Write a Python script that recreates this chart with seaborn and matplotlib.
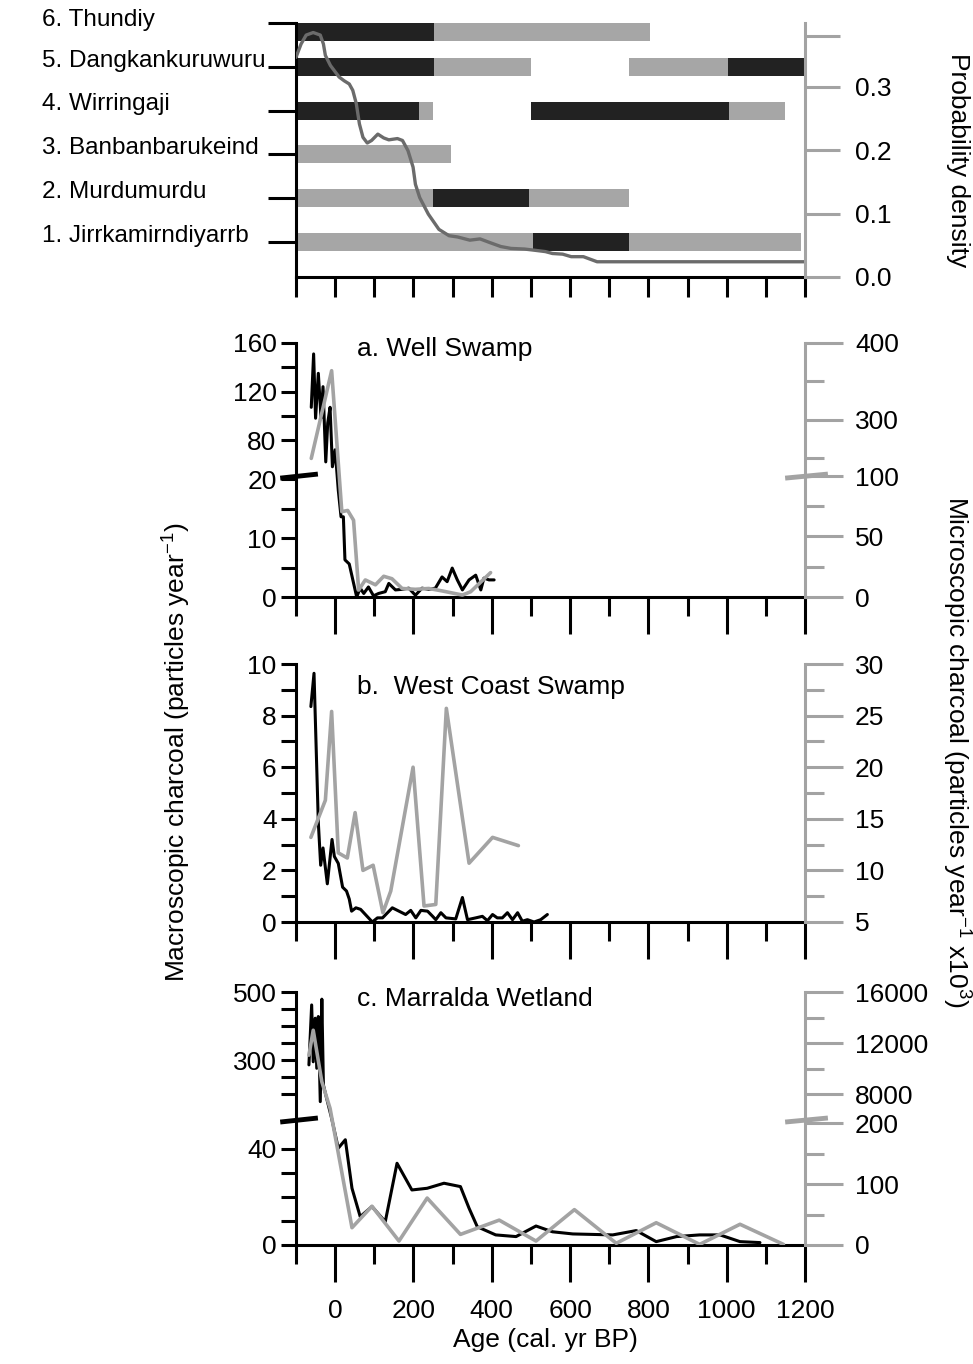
import matplotlib
matplotlib.use('Agg')
import matplotlib.pyplot as plt
import numpy as np
import pandas as pd
import seaborn as sns

# ---------------- data ----------------
sites = ['1. Jirrkamirndiyarrb', '2. Murdumurdu', '3. Banbanbarukeind',
         '4. Wirringaji', '5. Dangkankuruwuru', '6. Thundiy']

# occupation segments (row, start, end, shade)
seg_row = [1, 1, 1, 2, 2, 2, 3, 4, 4, 4, 4, 5, 5, 5, 5, 6, 6]
seg_start = [-100, 505, 750, -100, 250, 495, -100, -100, 215, 500, 1005,
             -100, 252, 750, 1003, -100, 252]
seg_end = [505, 750, 1190, 250, 495, 750, 295, 215, 250, 1005, 1150,
           252, 500, 1003, 1200, 252, 805]
seg_shade = ['light', 'dark', 'light', 'light', 'dark', 'light', 'light',
             'dark', 'light', 'dark', 'light', 'dark', 'light', 'light',
             'dark', 'dark', 'light']

# summed probability density
pd_age = [-100, -87, -74, -56, -38, -30, -25, -12, 10, 23, 36, 45, 54, 62, 71,
          82, 93, 109, 124, 137, 159, 172, 186, 199, 205, 216, 238, 265, 291,
          313, 344, 370, 396, 423, 449, 484, 511, 537, 555, 581, 603, 634,
          669, 1200]
pd_val = [0.346, 0.367, 0.381, 0.385, 0.381, 0.367, 0.349, 0.333, 0.315, 0.309,
          0.304, 0.294, 0.273, 0.241, 0.220, 0.211, 0.215, 0.225, 0.219, 0.216,
          0.218, 0.215, 0.199, 0.173, 0.146, 0.125, 0.099, 0.075, 0.065, 0.063,
          0.058, 0.060, 0.054, 0.048, 0.045, 0.044, 0.042, 0.040, 0.037, 0.036,
          0.032, 0.032, 0.024, 0.024]

# a. Well Swamp
ws_macro_age = [-61, -55, -50, -43, -36, -31, -24, -19, -13, -7, 0, 8, 15, 21,
                25, 36, 55, 64, 73, 85, 98, 111, 128, 137, 154, 171, 188, 205,
                222, 239, 256, 273, 286, 299, 312, 325, 342, 359, 372, 380,
                393, 406]
ws_macro = [107, 151, 98, 135, 98, 124, 62, 94, 107, 58, 72, 18.1, 13.6, 13.6,
            6.3, 5.6, 0, 1.5, 0.6, 1.7, 0.2, 0.6, 0.9, 2.3, 1.2, 1.3, 1.5, 0.3,
            1.5, 1.3, 1.5, 3.4, 2.6, 4.9, 2.9, 1.2, 2.9, 3.7, 1.2, 3.2, 2.9,
            2.9]
ws_micro_age = [-61, -9, 17, 32, 47, 60, 77, 103, 124, 145, 171, 205, 239, 273,
                325, 346, 397]
ws_micro = [250, 364, 70, 71, 63, 5.7, 14, 10, 17, 15, 7, 6.3, 7, 5, 1.6,
            4.3, 20]

# b. West Coast Swamp
wc_macro_age = [-62, -54, -43, -37, -31, -20, -8, -2, 8, 19, 29, 36, 42, 53,
                65, 95, 108, 121, 146, 163, 180, 193, 206, 219, 236, 249, 257,
                270, 283, 308, 325, 338, 359, 376, 389, 402, 414, 427, 440,
                453, 466, 478, 491, 508, 525, 542]
wc_macro = [8.35, 9.64, 3.86, 2.2, 2.87, 1.48, 3.2, 2.54, 2.27, 1.35, 1.2,
            0.89, 0.42, 0.55, 0.49, 0.0, 0.16, 0.16, 0.55, 0.42, 0.29, 0.45,
            0.16, 0.45, 0.42, 0.22, 0.09, 0.36, 0.16, 0.12, 0.95, 0.09, 0.16,
            0.22, 0.05, 0.29, 0.16, 0.16, 0.36, 0.09, 0.36, 0.03, 0.09, 0.0,
            0.09, 0.29]
wc_micro_age = [-62, -25, -9, 8, 31, 51, 71, 97, 122, 142, 199, 227, 257, 284,
                342, 402, 468]
wc_micro = [13.2, 16.8, 25.4, 11.7, 11.2, 15.6, 10.0, 10.5, 5.9, 8.0, 20.0,
            6.55, 6.7, 25.7, 10.7, 13.2, 12.4]

# c. Marralda Wetland
mw_macro_age = [-67, -60, -56, -51, -47, -43, -38, -34, -30, -24, -9, 8, 26,
                43, 64, 94, 128, 158, 196, 235, 278, 320, 342, 363, 410, 462,
                513, 555, 607, 709, 769, 820, 872, 931, 983, 1034, 1085]
mw_macro = [286, 462, 295, 423, 276, 428, 178, 479, 227, 198, 129, 40.3, 43.8,
            23.6, 11.8, 16, 9.7, 34, 22.9, 23.6, 25.7, 24.3, 15.3, 7.6, 4.2,
            3.5, 7.9, 5.5, 4.6, 4.2, 6, 1.4, 3.5, 4.2, 4.2, 1.4, 1.0]
mw_micro_age = [-67, -56, -34, -13, 43, 94, 163, 235, 320, 419, 513, 611, 718,
                820, 931, 1034, 1145]
mw_micro = [11049, 13003, 8961, 6882, 28.4, 63.6, 6.5, 77, 17.4, 40.8, 6.5,
            58, 2.8, 36.5, 1, 34, 1]

# ---------------- style ----------------
sns.set_theme(style='ticks')
plt.rcParams['font.family'] = ['Liberation Sans', 'DejaVu Sans']
plt.rcParams['mathtext.fontset'] = 'custom'
plt.rcParams['mathtext.rm'] = 'Liberation Sans'
plt.rcParams['mathtext.it'] = 'Liberation Sans:italic'
plt.rcParams['axes.facecolor'] = 'white'
for key in ['text.color', 'axes.labelcolor', 'xtick.color', 'ytick.color',
            'xtick.labelcolor', 'ytick.labelcolor']:
    plt.rcParams[key] = 'black'

DARK = '#222222'
LIGHT = '#a6a6a6'
GRAY = '#a3a3a3'
PDGRAY = '#6b6b6b'
LW = 2.2
FS = 19

fig = plt.figure(figsize=(9.73, 13.64), dpi=100)
L, W = 296 / 973, 509 / 973


def rect(top_px, bot_px):
    return [L, 1 - bot_px / 1364, W, (bot_px - top_px) / 1364]


def broken(ax, lo_top, hi_bot, top, frac):
    xp = [0.0, frac, frac + 1e-6, 1.0]
    fp = [0.0, lo_top, hi_bot, top]
    ax.set_yscale('function', functions=(lambda v: np.interp(v, fp, xp),
                                         lambda t: np.interp(t, xp, fp)))
    ax.set_ylim(0, top)


def break_mark(ax, frac, side, color):
    if side == 'left':
        xs = [-0.031, 0.043]
    else:
        xs = [0.961, 1.045]
    ax.plot(xs, [frac - 0.008, frac + 0.008], transform=ax.transAxes,
            color=color, lw=3.5, clip_on=False, zorder=10,
            solid_capstyle='butt')


def style_pair(ax, ax2, last=False):
    ax.spines['top'].set_visible(False)
    ax.spines['right'].set_visible(False)
    for s in ['left', 'bottom']:
        ax.spines[s].set_linewidth(LW)
        ax.spines[s].set_color('black')
    for s in ['top', 'left', 'bottom']:
        ax2.spines[s].set_visible(False)
    ax2.spines['right'].set_color(GRAY)
    ax2.spines['right'].set_linewidth(LW)
    ax.set_xlim(-100, 1200)
    ax.set_xticks(np.arange(0, 1201, 200))
    ax.set_xticks(np.arange(-100, 1200, 200), minor=True)
    ax.tick_params(axis='x', which='major', direction='out', length=26.6,
                   width=LW, color='black', labelsize=FS, pad=12,
                   labelbottom=last)
    ax.tick_params(axis='x', which='minor', direction='out', length=13.7,
                   width=LW, color='black')
    ax.tick_params(axis='y', which='both', direction='out', length=11,
                   width=LW, color='black', labelsize=FS, pad=3)
    ax2.tick_params(axis='y', which='major', direction='out', length=27,
                    width=LW, color=GRAY, labelsize=FS, pad=9)
    ax2.tick_params(axis='y', which='minor', direction='out', length=13.7,
                    width=LW, color=GRAY)
    ax.set_xlabel('')
    ax.set_ylabel('')
    ax2.set_xlabel('')
    ax2.set_ylabel('')


def draw(ax, x, y, color, lw):
    sns.lineplot(x=x, y=y, ax=ax, color=color, lw=lw, estimator=None,
                 sort=False, legend=False)


# ---------------- top panel ----------------
ax0 = fig.add_axes(rect(23, 277))
for r, s, e, sh in zip(seg_row, seg_start, seg_end, seg_shade):
    ax0.barh(min(r, 5.8), e - s, left=s, height=0.41,
             color=DARK if sh == 'dark' else LIGHT, edgecolor='none')
ax0.set_xlim(-100, 1200)
ax0.set_ylim(0.2, 6)
ax0.set_xticks(np.arange(-100, 1201, 100))
ax0.set_yticks(range(1, 7))
ax0.set_yticklabels([])
for i, name in enumerate(sites):
    r = i + 1
    ax0.text(-0.499, r + (0.14 if r < 6 else 0.07), name, fontsize=17.5,
             ha='left', va='center',
             transform=ax0.get_yaxis_transform(), clip_on=False)
ax0.tick_params(axis='x', direction='out', length=14.4, width=LW,
                labelbottom=False)
ax0.tick_params(axis='y', direction='out', length=20, width=LW)
ax0.spines['top'].set_visible(False)
ax0.spines['right'].set_visible(False)
for s in ['left', 'bottom']:
    ax0.spines[s].set_linewidth(LW)
    ax0.spines[s].set_color('black')

ax0r = ax0.twinx()
draw(ax0r, pd_age, pd_val, PDGRAY, 2.4)
ax0r.set_ylim(0, 0.4)
ax0r.set_yticks([0, 0.1, 0.2, 0.3, 0.38])
ax0r.set_yticklabels(['0.0', '0.1', '0.2', '0.3', ''])
ax0r.tick_params(axis='y', direction='out', length=25, width=LW, color=GRAY,
                 labelsize=FS, pad=11)
for s in ['top', 'left', 'bottom']:
    ax0r.spines[s].set_visible(False)
ax0r.spines['right'].set_color(GRAY)
ax0r.spines['right'].set_linewidth(LW)
ax0r.set_ylabel('')

# ---------------- a. Well Swamp ----------------
axa = fig.add_axes(rect(343, 597))
draw(axa, ws_macro_age, ws_macro, 'black', 2.2)
axa2 = axa.twinx()
draw(axa2, ws_micro_age, ws_micro, GRAY, 2.6)
style_pair(axa, axa2)
broken(axa, 20.5, 50.3, 160, 0.476)
broken(axa2, 99.2, 227, 400, 0.476)
axa.set_yticks([0, 5, 10, 15, 20, 80, 100, 120, 140, 160])
axa.set_yticklabels(['0', '', '10', '', '20', '80', '', '120', '', '160'])
axa2.set_yticks([0, 50, 100, 300, 400])
axa2.set_yticks([25, 75, 250, 350], minor=True)
axa2.set_yticklabels(['0', '50', '100', '300', '400'])
axa.text(0.12, 0.978, 'a. Well Swamp', transform=axa.transAxes, fontsize=FS,
         ha='left', va='center')
break_mark(axa, 0.476, 'left', 'black')
break_mark(axa2, 0.476, 'right', GRAY)

# ---------------- b. West Coast Swamp ----------------
axb = fig.add_axes(rect(664, 922))
draw(axb, wc_macro_age, wc_macro, 'black', 2.2)
axb2 = axb.twinx()
draw(axb2, wc_micro_age, wc_micro, GRAY, 2.6)
style_pair(axb, axb2)
axb.set_ylim(0, 10)
axb.set_yticks(range(0, 11))
axb.set_yticklabels([str(v) if v % 2 == 0 else '' for v in range(0, 11)])
axb2.set_ylim(5, 30)
axb2.set_yticks(range(5, 31, 5))
axb2.set_yticks(np.arange(7.5, 30, 5), minor=True)
axb.text(0.12, 0.91, 'b.  West Coast Swamp', transform=axb.transAxes,
         fontsize=FS, ha='left', va='center')

# ---------------- c. Marralda Wetland ----------------
axc = fig.add_axes(rect(992, 1245))
draw(axc, mw_macro_age, mw_macro, 'black', 2.2)
axc2 = axc.twinx()
draw(axc2, mw_micro_age, mw_micro, GRAY, 2.6)
style_pair(axc, axc2, last=True)
broken(axc, 52, 124, 500, 0.494)
broken(axc2, 205, 5967, 16000, 0.494)
axc.set_yticks([0, 10, 20, 30, 40, 200, 250, 300, 350, 400, 450, 500])
axc.set_yticklabels(['0', '', '', '', '40', '', '', '300', '', '', '', '500'])
axc2.set_yticks([0, 100, 200, 8000, 12000, 16000])
axc2.set_yticks([50, 150, 10000, 14000], minor=True)
axc2.set_yticklabels(['0', '100', '200', '8000', '12000', '16000'])
axc.text(0.12, 0.972, 'c. Marralda Wetland', transform=axc.transAxes,
         fontsize=FS, ha='left', va='center')
break_mark(axc, 0.494, 'left', 'black')
break_mark(axc2, 0.494, 'right', GRAY)

# ---------------- axis titles ----------------
fig.text(177 / 973, 1 - 752 / 1364,
         'Macroscopic charcoal (particles year$^{-1}$)', rotation=90,
         fontsize=FS, ha='center', va='center')
fig.text(956 / 973, 1 - 752 / 1364,
         'Microscopic charcoal (particles year$^{-1}$ x10$^{3}$)',
         rotation=270, fontsize=FS, ha='center', va='center')
fig.text(958 / 973, 1 - 160 / 1364, 'Probability density', rotation=270,
         fontsize=FS, ha='center', va='center')
fig.text(545 / 973, 1 - 1340 / 1364, 'Age (cal. yr BP)', fontsize=FS,
         ha='center', va='center')

fig.savefig('out.png', dpi=100, facecolor='white')
